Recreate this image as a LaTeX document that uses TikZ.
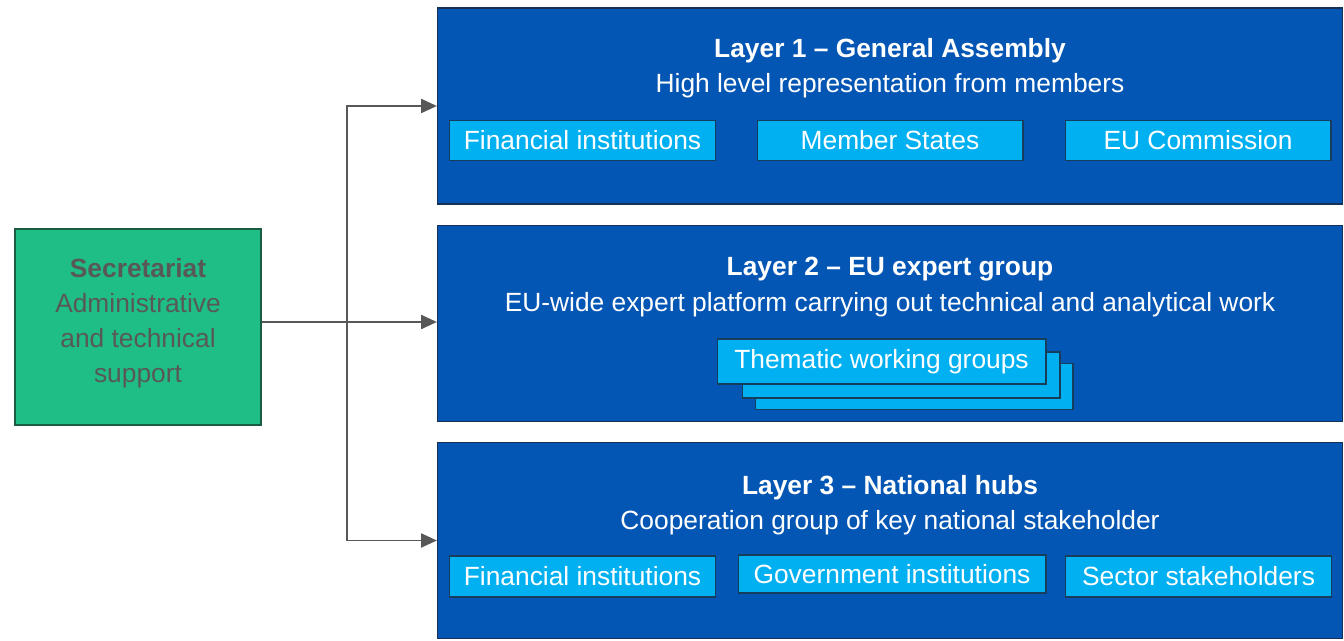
\documentclass[tikz,border=0pt]{standalone}
\usepackage{fontspec}
\setmainfont{Liberation Sans}
\usepackage{tikz}
\usetikzlibrary{positioning,arrows.meta,calc}
\definecolor{layerblue}{RGB}{4,86,180}
\definecolor{layeredge}{RGB}{22,48,86}
\definecolor{cellblue}{RGB}{0,176,240}
\definecolor{celledge}{RGB}{22,62,92}
\definecolor{secgreen}{RGB}{31,190,134}
\definecolor{secedge}{RGB}{26,92,66}
\definecolor{linkgray}{RGB}{88,88,88}
\tikzset{
 org/.style={x=0.02cm,y=-0.02cm,font=\fontsize{15}{20}\selectfont},
 layer/.style={rectangle,draw=layeredge,fill=layerblue,line width=0.8pt,
   minimum width=18.1cm,minimum height=3.92cm,inner sep=0pt},
 heading/.style={text=white,align=center,inner sep=0pt},
 cell/.style={rectangle,draw=celledge,fill=cellblue,text=white,line width=0.6pt,
   minimum width=5.32cm,minimum height=0.8cm,inner sep=0pt},
 stack/.style={cell,minimum width=6.36cm,minimum height=0.92cm},
 secbox/.style={rectangle,draw=secedge,fill=secgreen,line width=0.8pt,
   minimum width=4.92cm,minimum height=3.92cm,inner sep=0pt},
 sectext/.style={text=linkgray,align=center,inner sep=0pt},
 link/.style={draw=linkgray,line width=1.1pt},
 feed/.style={link,-{Triangle[length=9pt,width=8pt]}}}
\begin{document}
\begin{tikzpicture}[org]
  \useasboundingbox (0,0) rectangle (1344,641);
  % the three layers
  \node[layer] (l1) at (890,106) {};
  \node[layer] (l2) at (890,323.5) {};
  \node[layer] (l3) at (890,540.5) {};
  \node[heading] (t1) at (890,68) {\textbf{Layer 1 -- General Assembly}\\High level representation from members};
  \node[heading] (t2) at (890,287) {\textbf{Layer 2 -- EU expert group}\\EU-wide expert platform carrying out technical and analytical work};
  \node[heading] (t3) at (890,505) {\textbf{Layer 3 -- National hubs}\\Cooperation group of key national stakeholder};
  % members of layer 1
  \node[cell] (fi1) at (582.5,140.5) {Financial institutions};
  \node[cell] (ms) at (890,140.5) {Member States};
  \node[cell] (ec) at (1198,140.5) {EU Commission};
  % working groups, stacked
  \node[stack] (tw3) at (914,386.5) {};
  \node[stack] (tw2) at (901,375) {};
  \node[stack,minimum width=6.58cm,minimum height=0.9cm] (tw) at (881.5,361.5) {Thematic working groups};
  % members of layer 3
  \node[cell,minimum height=0.82cm] (fi3) at (582.5,576.5) {Financial institutions};
  \node[cell,minimum width=6.16cm,minimum height=0.76cm] (gi) at (892,574) {Government institutions};
  \node[cell,minimum height=0.82cm] (ss) at (1198.5,576.5) {Sector stakeholders};
  % secretariat
  \node[secbox] (sec) at (138,327) {};
  \node[sectext] (secl) at (138,323) {\textbf{Secretariat}\\Administrative\\and technical\\support};
  \coordinate (hub) at (347,322);
  \draw[link] (sec.east |- hub) -- (hub);
  \draw[feed] (hub) |- (l1.west);
  \draw[feed] (hub) -- (hub -| l2.west);
  \draw[feed] (hub) |- (l3.west);
\end{tikzpicture}
\end{document}
